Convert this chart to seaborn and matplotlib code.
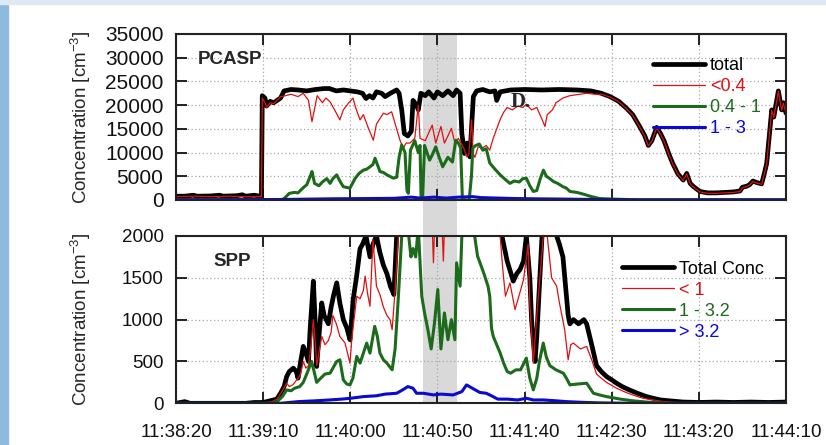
import pandas as pd
import matplotlib
matplotlib.use('Agg')
import matplotlib.pyplot as plt
import matplotlib.transforms as mtransforms
from matplotlib.patches import Rectangle
import seaborn as sns

# time axis: seconds after 11:38:20
tick_seconds = [0, 50, 100, 150, 200, 250, 300, 350]
tick_labels = ["11:38:20", "11:39:10", "11:40:00", "11:40:50",
               "11:41:40", "11:42:30", "11:43:20", "11:44:10"]
band_start, band_end = 141.5, 161.0

# ---------------- PCASP ----------------
pcasp_total_t = [0, 5, 10, 12, 20, 25, 27, 35, 38, 40, 45, 48, 49, 49.5, 51, 52, 54, 56, 58, 60,
                 62, 66, 70, 75, 80, 85, 88, 92, 96, 100, 104, 107, 109, 111, 113, 115, 118, 120, 123, 126.6,
                 128, 129.5, 131, 133, 135, 136, 138, 139, 140.5, 143, 145, 148, 150, 153, 156, 159, 161, 163, 164, 165.5,
                 167, 168.6, 170.6, 172.5, 176, 180, 183, 184, 186, 192, 200, 210, 220, 230, 238, 244, 249, 254, 258.6, 262,
                 266, 269, 271, 273, 275.8, 278, 280, 283, 285, 288, 291, 293, 295, 297, 300.6, 305, 310, 315, 320, 323.6,
                 325, 327.4, 329, 331, 333, 336, 337.5, 338.9, 340, 341.8, 343, 345.6, 347.5, 348.5, 350]
pcasp_total = [800, 800, 1000, 800, 850, 1000, 800, 900, 1100, 800, 1000, 800, 800, 22000, 21500, 19800, 20800, 20500, 21000, 21500,
               23000, 23300, 23200, 23000, 23300, 23500, 23500, 23000, 23200, 23000, 22800, 22500, 21400, 22000, 21500, 22800, 22500, 21800, 22500, 23200,
               22500, 19000, 14000, 13500, 14500, 21000, 20000, 19000, 22500, 22000, 22800, 21500, 22800, 22000, 23000, 22000, 23200, 22500, 14000, 9800,
               12000, 9100, 21800, 23000, 23300, 22800, 23000, 21000, 22800, 23200, 23300, 23200, 23300, 23200, 23000, 22500, 21800, 20800, 19300, 18000,
               15500, 13500, 11500, 12500, 15300, 14000, 12500, 9500, 7700, 5500, 4200, 5600, 3500, 2800, 1800, 1500, 1500, 1600, 1700, 1900,
               2700, 2900, 3200, 4000, 3700, 3400, 5500, 7700, 12000, 19000, 17500, 23000, 19000, 20500, 18300]

pcasp_small_t = [0, 10, 20, 30, 40, 49, 49.5, 51, 52, 54, 56, 58, 60, 63, 66, 70, 73, 76, 78, 81,
                 84, 86, 88.4, 91, 94, 96, 98.9, 101.6, 103, 105.6, 107.5, 110, 113.2, 115, 119, 121, 123.7, 126.6, 128.5, 130.4,
                 132, 134.2, 137, 139, 140, 143, 147, 149, 152, 154, 156, 158, 160, 162, 165, 166.8, 168, 169.6, 170.5, 171.5,
                 173.3, 176, 178, 180, 182, 184, 186, 188, 190, 193, 196, 199, 201, 204, 207, 210, 211.7, 213, 216, 218,
                 222, 226, 230, 235.6, 240, 244, 249, 254, 258.6, 262, 266, 269, 271, 273, 275.8, 278, 280, 283, 285, 288,
                 291, 293, 295, 297, 300.6, 305, 310, 315, 320, 323.6, 325, 327.4, 329, 331, 333, 336, 337.5, 338.9, 340, 341.8,
                 343, 345.6, 347.5, 348.5, 350]
pcasp_small = [700, 800, 700, 800, 700, 700, 21500, 20500, 19500, 20500, 20300, 21000, 21800, 22000, 22300, 21800, 22500, 21000, 16500, 22000,
               20500, 21500, 20700, 19000, 16900, 19000, 20400, 21500, 19500, 16900, 18000, 15500, 12600, 16000, 18300, 18000, 18600, 15000, 12600, 10900,
               12000, 12000, 13000, 20000, 13000, 12500, 15800, 12000, 15500, 12000, 13500, 15100, 12000, 13000, 11000, 9100, 9500, 16900, 9800, 9000,
               11200, 11000, 11500, 10500, 13000, 15000, 17000, 18500, 19500, 19000, 19800, 19500, 20200, 19000, 19500, 17000, 15500, 18000, 19000, 20500,
               21500, 22000, 22200, 22500, 22300, 22300, 21700, 20700, 19200, 17900, 15400, 13400, 11400, 12400, 15200, 13900, 12400, 9400, 7600, 5400,
               4100, 5500, 3400, 2700, 1700, 1400, 1400, 1500, 1600, 1800, 2600, 2800, 3100, 3900, 3600, 3300, 5400, 7600, 11900, 18900,
               17400, 22900, 18900, 20400, 18200]

pcasp_mid_t = [0, 60, 62, 65, 68, 70, 73, 75, 77, 78, 79.5, 82, 84, 86.5, 88.4, 90, 92.2, 94, 96, 99.8,
               102.7, 105, 107.5, 109.4, 111.3, 113, 114.2, 115.5, 117, 119, 121, 124.7, 126.6, 128, 129.5, 131.4, 132.5, 133.3, 134.5, 137,
               139, 140, 140.6, 141.5, 142.6, 144, 145.5, 147, 149, 151, 153, 156, 158.6, 160.5, 162, 163.3, 164.3, 166, 168.2, 169.5,
               170.3, 172, 174, 176, 178, 180, 183, 186, 189, 191.6, 194, 197, 199, 201, 203, 205, 207, 209, 210.8, 212.5,
               214.5, 216.5, 219, 222, 224, 226, 230, 234, 237.5, 243, 250, 258.6, 265, 350]
pcasp_mid = [0, 0, 300, 1400, 1600, 1500, 2600, 3200, 5000, 6000, 3500, 3000, 3800, 4500, 3500, 4500, 5300, 4000, 2800, 2500,
             4500, 5600, 6300, 6500, 7000, 7500, 8800, 7500, 6000, 5800, 5300, 4600, 4800, 9000, 11600, 10000, 2000, 1400, 10500, 12500,
             10000, 11500, 500, 500, 11500, 10000, 8400, 9500, 11200, 9000, 7000, 9000, 8000, 12600, 12000, 11000, 300, 0, 0, 5000,
             11000, 11500, 11800, 10500, 10800, 7800, 6500, 5300, 4300, 3500, 4000, 3800, 4500, 4600, 3000, 1800, 2000, 4500, 6300, 5000,
             4500, 3900, 3500, 2800, 2500, 1800, 1600, 1200, 800, 300, 200, 100, 0, 0]

pcasp_large_t = [0, 60, 70, 90, 110, 125, 135, 140, 148, 155, 162, 170, 175, 185, 195, 205, 220, 240, 260, 350]
pcasp_large = [50, 100, 150, 250, 300, 350, 600, 400, 600, 400, 600, 700, 500, 400, 300, 250, 200, 100, 50, 50]

# ---------------- SPP ----------------
spp_total_t = [0, 5, 8, 20, 40, 45, 50, 54, 57.8, 60, 62, 63.5, 65, 67.3, 69, 70, 71.5, 73, 74.5, 76,
               77, 78.8, 79.8, 80.7, 82, 83.6, 85, 87.4, 89, 90.5, 92.2, 94, 96, 98, 99.8, 101.7, 103.5, 105.6, 107, 109,
               111.3, 113, 115, 117, 119, 121, 123, 125, 126.6, 130, 140, 150, 160, 170, 180, 185, 187, 190, 193.5, 195.5,
               197.4, 199.4, 201, 203, 204, 206, 207, 208, 210, 214, 218.4, 220, 222, 223.5, 225, 226, 228, 231, 234, 235.6,
               238.5, 241.3, 244, 247, 250, 252.8, 256, 259, 262.4, 266, 270, 273.8, 278, 283, 291, 300, 310, 320, 330, 340, 350]
spp_total = [0, 20, 0, 0, 0, 10, 10, 30, 50, 120, 200, 320, 380, 420, 380, 300, 500, 680, 600, 500,
             900, 1460, 1000, 440, 800, 1200, 1050, 950, 1150, 1300, 1440, 1200, 1000, 900, 760, 1250, 1500, 1850, 1900, 2000,
             1750, 1900, 2000, 1800, 1650, 1550, 1400, 1300, 2000, 2600, 3000, 3000, 3000, 2800, 2500, 2200, 2000, 1700, 1460, 1550,
             1600, 1700, 2000, 1500, 1000, 500, 800, 1200, 2000, 2100, 2000, 1900, 1750, 1400, 1050, 950, 1000, 950, 1000, 950,
             700, 450, 380, 320, 280, 240, 200, 170, 140, 110, 80, 60, 40, 30, 15, 10, 15, 10, 15, 10, 15]

spp_small_t = [0, 50, 55, 58, 61, 63.5, 65, 67, 70, 71.5, 73, 74.5, 76, 77.5, 78.8, 80, 80.7, 82, 83.6, 85.5,
               87.4, 89, 90, 92, 94, 97, 99.8, 101, 103.7, 105.6, 107.5, 108.5, 110, 111.3, 113, 115, 117, 119, 121, 122.8,
               124, 125.7, 127.6, 130, 145, 147, 147.7, 148.5, 152.5, 153.4, 154.3, 165, 175, 185, 186, 187.5, 189, 191.6, 194.5, 197,
               199.4, 202, 203, 205, 206.5, 208, 210.7, 213, 215.5, 218.4, 220, 223, 225, 226.5, 228, 232, 235.6, 238.5, 241.3, 244,
               247, 252.8, 257, 262, 268, 273.8, 280, 290, 350]
spp_small = [0, 0, 20, 50, 150, 240, 200, 220, 300, 350, 500, 420, 450, 700, 1000, 700, 450, 600, 800, 700,
             750, 850, 1050, 950, 800, 720, 480, 800, 1280, 1250, 1350, 1520, 1300, 1160, 1960, 1400, 1300, 1150, 1050, 1000,
             880, 1350, 2000, 2400, 2400, 2100, 1680, 2200, 2200, 1700, 2300, 2500, 2400, 2100, 2000, 1600, 1280, 1440, 1120, 1300,
             1480, 1900, 1200, 480, 900, 1300, 2000, 2000, 1500, 1400, 1200, 880, 520, 700, 720, 650, 680, 520, 350, 300,
             250, 180, 140, 100, 60, 40, 20, 5, 5]

spp_mid_t = [0, 55, 58, 61, 63.5, 66, 68, 71, 73, 75, 77.8, 79, 80.7, 83, 85.5, 88.4, 90, 92.2, 94, 96,
             98, 99.8, 101.5, 103.7, 105.6, 107.5, 109.4, 111.3, 114, 115.5, 117, 119, 121, 124, 125.7, 127.6, 129.5, 133, 134.8, 136,
             137.5, 139, 141, 142.6, 144.5, 146.4, 148.3, 150.2, 152, 154, 156, 158, 160, 161, 163, 164, 166, 171, 173, 176.5,
             179, 180, 181, 182, 186, 188, 190, 192, 195, 197.7, 201, 203, 205, 207, 208.5, 210.7, 212.5, 214.5, 218, 222.2,
             224, 226, 230, 235.6, 239.5, 243, 247, 255, 262, 270, 281, 350]
spp_mid = [0, 0, 20, 80, 160, 150, 180, 200, 250, 350, 500, 400, 250, 300, 350, 360, 420, 500, 520, 280,
           230, 220, 300, 560, 480, 600, 720, 600, 920, 800, 600, 520, 480, 400, 650, 1280, 2000, 2100, 1750, 1850,
           1750, 2100, 1280, 1080, 880, 650, 960, 1360, 650, 1080, 760, 1000, 760, 1680, 1400, 2000, 2200, 2050, 1760, 1560,
           1400, 1280, 900, 800, 600, 480, 380, 360, 400, 400, 540, 300, 160, 300, 500, 720, 550, 450, 400, 360,
           300, 220, 230, 240, 120, 100, 80, 50, 30, 15, 0, 0]

spp_large_t = [0, 60, 65, 70, 80, 88, 95, 100, 107.5, 115, 120, 126.6, 130, 133, 136, 138, 142, 147.7, 152, 159,
               164, 166.7, 170, 174.3, 178, 181, 184.6, 190, 196, 201, 205, 210.7, 218, 224, 235, 243, 260, 350]
spp_large = [0, 0, 10, 20, 30, 40, 50, 60, 80, 90, 110, 120, 160, 200, 180, 120, 120, 100, 110, 100,
             140, 220, 180, 130, 120, 90, 50, 50, 40, 60, 40, 40, 30, 20, 10, 5, 0, 0]

line_colors = ["#000000", "#e01010", "#1b6b1b", "#0a0ad0"]
line_widths = [3.4, 0.9, 2.2, 2.2]
pcasp_labels = ["total", "<0.4", "0.4 - 1", "1 - 3"]
spp_labels = ["Total Conc", "< 1", "1 - 3.2", "> 3.2"]

sns.set_style("ticks")
plt.rcParams['font.family'] = ['Liberation Sans', 'DejaVu Sans']
plt.rcParams['mathtext.fontset'] = 'custom'
plt.rcParams['mathtext.rm'] = 'Liberation Sans'
plt.rcParams['mathtext.it'] = 'Liberation Sans'

fig = plt.figure(figsize=(8.26, 4.45), dpi=100)
fig.patch.set_facecolor("white")
# slide background strips
fig.patches.append(Rectangle((0, 0), 0.0097, 1, transform=fig.transFigure, color="#8dbbe0", zorder=-5))
fig.patches.append(Rectangle((0, 0.991), 1, 0.009, transform=fig.transFigure, color="#dfe9f3", zorder=-5))

ax1 = fig.add_axes([0.2131, 0.5506, 0.7385, 0.373])
ax2 = fig.add_axes([0.2131, 0.0937, 0.7385, 0.376])


def draw_panel(ax, series, labels, ymax, ystep, title, title_x, legend_xy, ysize):
    ax.axvspan(band_start, band_end, color="#d9d9d9", lw=0, zorder=0)
    for (tt, vv), lab, c, lw in zip(series, labels, line_colors, line_widths):
        df = pd.DataFrame({"t": tt, "c": vv})
        sns.lineplot(data=df, x="t", y="c", ax=ax, color=c, linewidth=lw, label=lab)
    ax.set_xlim(0, 350)
    ax.set_ylim(0, ymax)
    ax.set_xticks(tick_seconds)
    ax.set_yticks(list(range(0, ymax + 1, ystep)))
    ax.set_axisbelow(True)
    ax.grid(True, linestyle=(0, (1, 2)), color="#a8a8a8", linewidth=0.9)
    ax.tick_params(direction="in", length=8, width=1.3, top=True, right=True,
                   labelsize=13.5, pad=9, colors="#111111")
    ax.tick_params(axis="y", labelsize=ysize)
    for s in ax.spines.values():
        s.set_linewidth(1.5)
        s.set_color("#222222")
    ax.set_xlabel("")
    ax.set_ylabel("Concentration [cm$^{-3}$]", fontsize=13.5)
    ax.yaxis.set_label_coords(-0.136, 0.5)
    ax.text(title_x, 0.846, title, transform=ax.transAxes, fontsize=13.5,
            fontweight="bold", va="center", ha="left")
    leg = ax.legend(loc="upper left", bbox_to_anchor=legend_xy, frameon=False,
                    fontsize=13, handlelength=2.9, handletextpad=0.25,
                    labelspacing=0.22, borderpad=0, borderaxespad=0)
    for txt, c in zip(leg.get_texts(), line_colors):
        txt.set_color(c)


draw_panel(ax1, [(pcasp_total_t, pcasp_total), (pcasp_small_t, pcasp_small),
                 (pcasp_mid_t, pcasp_mid), (pcasp_large_t, pcasp_large)],
           pcasp_labels, 35000, 5000, "PCASP", 0.036, (0.782, 0.86), 15)
draw_panel(ax2, [(spp_total_t, spp_total), (spp_small_t, spp_small),
                 (spp_mid_t, spp_mid), (spp_large_t, spp_large)],
           spp_labels, 2000, 500, "SPP", 0.061, (0.731, 0.852), 13.5)

ax1.set_xticklabels([])
ax2.set_xticklabels(tick_labels)
ax2.tick_params(axis="x", pad=15)

ax1.text(0.548, 0.593, "D.", transform=ax1.transAxes, fontsize=15,
         fontweight="bold", family="Liberation Serif", va="center", ha="left")

# grey band continues through the gap between the panels
trans = mtransforms.blended_transform_factory(ax1.transData, fig.transFigure)
gap_bottom = ax2.get_position().y1
gap_top = ax1.get_position().y0
fig.patches.append(Rectangle((band_start, gap_bottom), band_end - band_start, gap_top - gap_bottom,
                             transform=trans, color="#d9d9d9", lw=0, zorder=-1))

fig.savefig("out.png", dpi=100)
